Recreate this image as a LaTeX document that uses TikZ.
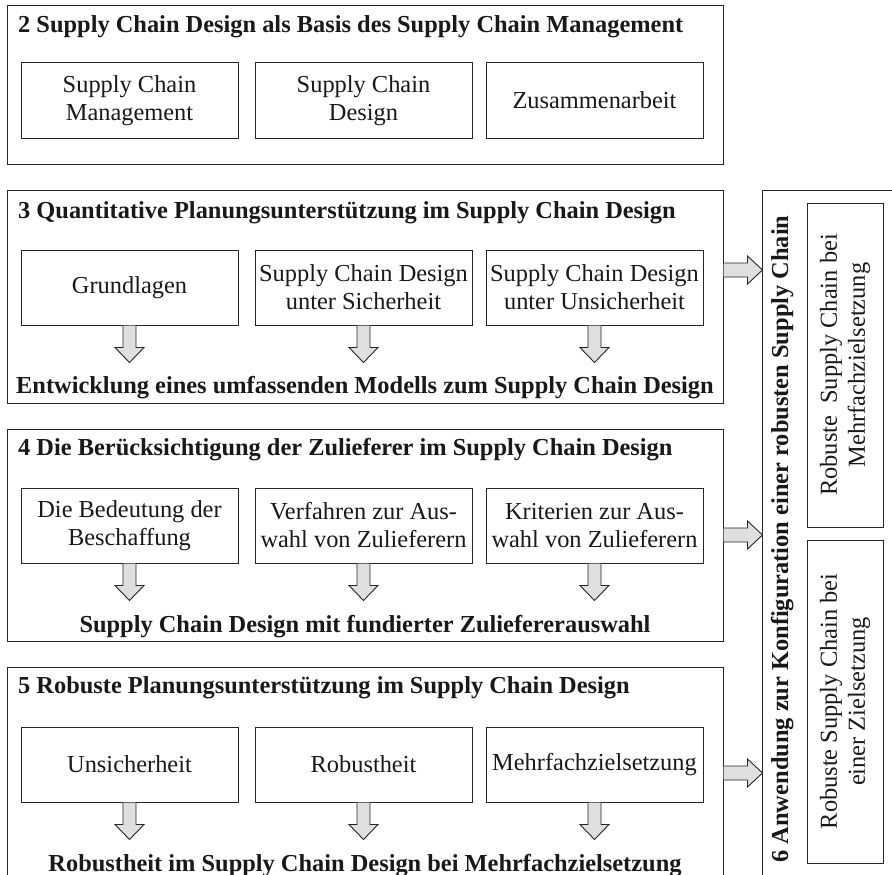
\documentclass[tikz,border=0pt]{standalone}
\usepackage{fontspec}
\setmainfont{Liberation Serif}
\usetikzlibrary{calc}
\begin{document}
\begin{tikzpicture}[x=1pt,y=-1pt,
  every node/.style={font=\fontsize{24.4}{28}\selectfont, text=black!90, inner sep=0pt},
  outer/.style={draw=black!85, line width=1pt, minimum width=716pt},
  inbox/.style={draw=black!85, line width=1pt, minimum width=217pt, minimum height=75pt, align=center},
  ttl/.style={font=\fontsize{24.4}{28}\selectfont\bfseries, anchor=base west},
  btm/.style={font=\fontsize{24.4}{28}\selectfont\bfseries, anchor=base},
  vbox/.style={draw=black!85, line width=1pt, rotate=90, minimum height=76pt, align=center},
  pics/downarr/.style={code={\draw[draw=black!85, fill=gray!25, line width=0.9pt]
     (-6.5,0) -- (-6.5,22) -- (-14.5,22) -- (0,37) -- (14.5,22) -- (6.5,22) -- (6.5,0);}},
  pics/rightarr/.style={code={\draw[draw=black!85, fill=gray!25, line width=0.9pt]
     (0,-7) -- (24,-7) -- (24,-14) -- (39,0) -- (24,14) -- (24,7) -- (0,7);}},
]
\useasboundingbox (0,0) rectangle (892,875);
\clip (0,0) rectangle (892,875);
\fill[white] (0,0) rectangle (892,875);

% ---- Box 2
\node[outer, minimum height=158pt] (b2) at (365,85) {};
\node[ttl] (t2) at (18,33) {2 Supply Chain Design als Basis des Supply Chain Management};
\node[inbox] (b2a) at (129.5,100.5) {Supply Chain\\Management};
\node[inbox] (b2b) at (363.5,100.5) {Supply Chain\\Design};
\node[inbox] (b2c) at (594.5,100.5) {Zusammenarbeit};

% ---- Box 3
\node[outer, minimum height=213pt] (b3) at (365,296.5) {};
\node[ttl] (t3) at (18,218) {3 Quantitative Planungsunterstützung im Supply Chain Design};
\node[inbox] (b3a) at (129.5,287.5) {Grundlagen};
\node[inbox] (b3b) at (363.5,287.5) {Supply Chain Design\\unter Sicherheit};
\node[inbox] (b3c) at (594.5,287.5) {Supply Chain Design\\unter Unsicherheit};
\pic at (b3a.south) {downarr};
\pic at (b3b.south) {downarr};
\pic at (b3c.south) {downarr};
\node[btm] (r3) at (365,393) {Entwicklung eines umfassenden Modells zum Supply Chain Design};

% ---- Box 4
\node[outer, minimum height=212pt] (b4) at (365,535) {};
\node[ttl] (t4) at (18,455) {4 Die Berücksichtigung der Zulieferer im Supply Chain Design};
\node[inbox] (b4a) at (129.5,525.5) {Die Bedeutung der\\Beschaffung};
\node[inbox] (b4b) at (363.5,525.5) {Verfahren zur Aus-\\wahl von Zulieferern};
\node[inbox] (b4c) at (594.5,525.5) {Kriterien zur Aus-\\wahl von Zulieferern};
\pic at (b4a.south) {downarr};
\pic at (b4b.south) {downarr};
\pic at (b4c.south) {downarr};
\node[btm] (r4) at (365,632) {Supply Chain Design mit fundierter Zuliefererauswahl};

% ---- Box 5
\node[outer, minimum height=216pt] (b5) at (365,775) {};
\node[ttl] (t5) at (18,693) {5 Robuste Planungsunterstützung im Supply Chain Design};
\node[inbox] (b5a) at (129.5,764.5) {Unsicherheit};
\node[inbox] (b5b) at (363.5,764.5) {Robustheit};
\node[inbox] (b5c) at (594.5,764.5) {Mehrfachzielsetzung};
\pic at (b5a.south) {downarr};
\pic at (b5b.south) {downarr};
\pic at (b5c.south) {downarr};
\node[btm] (r5) at (365,871) {Robustheit im Supply Chain Design bei Mehrfachzielsetzung};

% ---- Box 6
\node[draw=black!85, line width=1pt, minimum width=140pt, minimum height=720pt] (b6) at (832,550) {};
\node[font=\fontsize{24.4}{28}\selectfont\bfseries, rotate=90, anchor=base] (t6) at (788,539)
  {6 Anwendung zur Konfiguration einer robusten Supply Chain};
\node[vbox, minimum width=324pt] (b6a) at (845,365) {Robuste\ \ Supply Chain bei\\Mehrfachzielsetzung};
\node[vbox, minimum width=323pt] (b6b) at (845,701.5) {Robuste Supply Chain bei\\einer Zielsetzung};

% ---- arrows into box 6
\pic at ($(b3.east)+(0,-26.5)$) {rightarr};
\pic at (b4.east) {rightarr};
\pic at ($(b5.east)+(0,-2)$) {rightarr};
\end{tikzpicture}
\end{document}
